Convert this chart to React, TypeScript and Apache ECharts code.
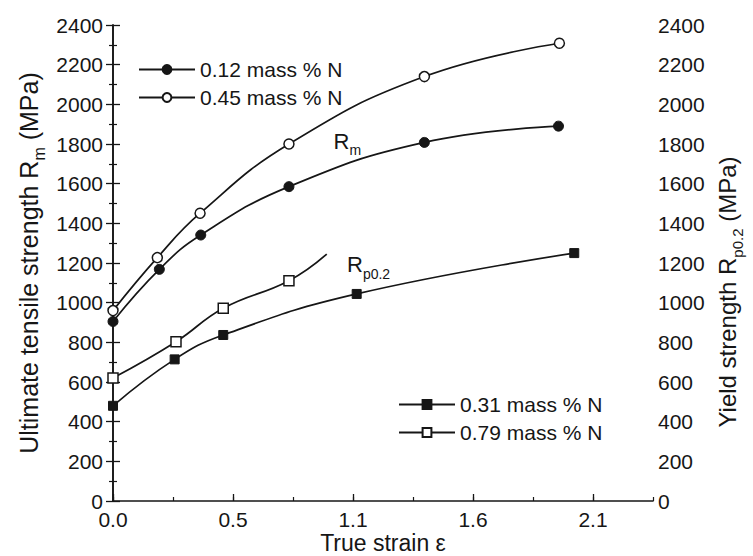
import React, { useEffect, useRef } from 'react';
import * as echarts from 'echarts';

// ---- data ----
const strain012 = [0, 0.206, 0.39, 0.782, 1.384, 1.98];
const rm012 = [905, 1168, 1341, 1585, 1808, 1890];
const strain045 = [0, 0.197, 0.387, 0.782, 1.384, 1.984];
const rm045 = [960, 1227, 1451, 1800, 2140, 2308];
const strain031 = [0, 0.274, 0.49, 1.083, 2.05];
const rp031 = [480, 714, 837, 1044, 1250];
const strain079 = [0, 0.28, 0.49, 0.782, 0.95];
const rp079 = [620, 803, 972, 1111, 1245];
const xTickLabels = ['0.0', '0.5', '1.1', '1.6', '2.1'];
const xMax = 2.4;
const yMax = 2400;
const yStep = 200;

const names = ['0.12 mass % N', '0.45 mass % N', '0.31 mass % N', '0.79 mass % N'];

const FONT = 'Liberation Sans, Arial, Helvetica, sans-serif';
const INK = '#161616';

function pairs(xs: number[], ys: number[]) {
  return xs.map((x, i) => [x, ys[i]]);
}

export default function App() {
  const ref = useRef<HTMLDivElement>(null);
  useEffect(() => {
    if (!ref.current) return;
    const chart = echarts.init(ref.current, undefined, { renderer: 'svg' });
    const lineBase = {
      type: 'line' as const,
      smooth: 0.45,
      lineStyle: { color: INK, width: 1.7 },
      z: 3,
    };
    const d079: any[] = pairs(strain079, rp079).map((p, i) =>
      i === strain079.length - 1 ? { value: p, symbol: 'none' } : p
    );
    const yAxisCommon = {
      type: 'value' as const,
      min: 0,
      max: yMax,
      interval: yStep,
      splitLine: { show: false },
      axisLine: { show: true, lineStyle: { color: INK, width: 1.6 } },
      axisTick: { show: true, inside: true, length: 7, lineStyle: { color: INK, width: 1.3 } },
      minorTick: { show: true, splitNumber: 2, length: 4, lineStyle: { color: INK, width: 1.2 } },
      axisLabel: {
        color: INK,
        fontSize: 21,
        fontFamily: FONT,
        formatter: (v: number) => String(v),
      },
    };
    chart.setOption({
      animation: false,
      backgroundColor: '#ffffff',
      grid: {
        left: 113,
        right: 100,
        top: 25,
        bottom: 55,
        containLabel: false,
        outerBoundsMode: 'none',
      },
      xAxis: [
        {
          type: 'value',
          min: 0,
          max: xMax,
          interval: xMax / 4.5,
          position: 'bottom',
          splitLine: { show: false },
          axisLine: { show: true, onZero: false, lineStyle: { color: INK, width: 1.6 } },
          axisTick: { show: true, inside: true, length: 7, lineStyle: { color: INK, width: 1.3 } },
          axisLabel: {
            color: INK,
            fontSize: 21,
            fontFamily: FONT,
            margin: 8,
            showMaxLabel: false,
            formatter: (_v: number, i: number) => xTickLabels[i] ?? '',
          },
        },
        {
          type: 'value',
          min: 0,
          max: xMax,
          interval: xMax / 9,
          position: 'bottom',
          splitLine: { show: false },
          axisLine: { show: false, onZero: false },
          axisTick: { show: true, inside: true, length: 4, lineStyle: { color: INK, width: 1.2 } },
          axisLabel: { show: false },
        },
      ],
      yAxis: [
        { ...yAxisCommon, position: 'left', axisLabel: { ...yAxisCommon.axisLabel, margin: 10 } },
        { ...yAxisCommon, position: 'right', axisLabel: { ...yAxisCommon.axisLabel, margin: 5 } },
      ],
      legend: [
        {
          data: [names[0], names[1]],
          orient: 'vertical',
          left: 133,
          top: 54,
          itemWidth: 56,
          itemHeight: 11,
          itemGap: 7,
          textStyle: { color: INK, fontSize: 21, fontFamily: FONT },
        },
        {
          data: [names[2], names[3]],
          orient: 'vertical',
          left: 393,
          top: 389,
          itemWidth: 56,
          itemHeight: 11,
          itemGap: 7,
          textStyle: { color: INK, fontSize: 21, fontFamily: FONT },
        },
      ],
      series: [
        {
          ...lineBase,
          name: names[0],
          data: pairs(strain012, rm012),
          symbol: 'circle',
          symbolSize: 10,
          itemStyle: { color: INK, borderColor: INK, borderWidth: 1 },
        },
        {
          ...lineBase,
          name: names[1],
          data: pairs(strain045, rm045),
          symbol: 'circle',
          symbolSize: 10,
          itemStyle: { color: '#ffffff', borderColor: INK, borderWidth: 1.5 },
        },
        {
          ...lineBase,
          name: names[2],
          data: pairs(strain031, rp031),
          symbol: 'rect',
          symbolSize: 9,
          itemStyle: { color: INK, borderColor: INK, borderWidth: 1 },
        },
        {
          ...lineBase,
          name: names[3],
          data: d079,
          symbol: 'rect',
          symbolSize: 10,
          itemStyle: { color: '#ffffff', borderColor: INK, borderWidth: 1.5 },
        },
      ],
    });

    const rmPos = chart.convertToPixel({ xAxisIndex: 0, yAxisIndex: 0 }, [0.98, 1815]) as number[];
    const rpPos = chart.convertToPixel({ xAxisIndex: 0, yAxisIndex: 0 }, [1.04, 1190]) as number[];
    const subRich = (size: number) => ({
      sub: {
        fontSize: Math.round(size * 0.62),
        fontFamily: FONT,
        fill: INK,
        color: INK,
        lineHeight: Math.round(size * 1.45),
        verticalAlign: 'bottom',
      },
    });
    chart.setOption({
      graphic: [
        {
          type: 'text',
          x: 383,
          y: 543,
          style: {
            text: 'True strain ε',
            fill: INK,
            font: `23px ${FONT}`,
            align: 'center',
            verticalAlign: 'middle',
          },
        },
        {
          type: 'text',
          x: 29,
          y: 263,
          rotation: Math.PI / 2,
          style: {
            text: 'Ultimate tensile strength R{sub|m} (MPa)',
            fill: INK,
            font: `25px ${FONT}`,
            align: 'center',
            verticalAlign: 'middle',
            rich: subRich(25),
          },
        },
        {
          type: 'text',
          x: 727,
          y: 292,
          rotation: Math.PI / 2,
          style: {
            text: 'Yield strength R{sub|p0.2} (MPa)',
            fill: INK,
            font: `24px ${FONT}`,
            align: 'center',
            verticalAlign: 'middle',
            rich: subRich(24),
          },
        },
        {
          type: 'text',
          x: rmPos[0],
          y: rmPos[1],
          style: {
            text: 'R{sub|m}',
            fill: INK,
            font: `22px ${FONT}`,
            align: 'left',
            verticalAlign: 'middle',
            rich: subRich(22),
          },
        },
        {
          type: 'text',
          x: rpPos[0],
          y: rpPos[1],
          style: {
            text: 'R{sub|p0.2}',
            fill: INK,
            font: `22px ${FONT}`,
            align: 'left',
            verticalAlign: 'middle',
            rich: subRich(22),
          },
        },
      ],
    });
    return () => chart.dispose();
  }, []);
  return (
    <div
      ref={ref}
      style={{ position: 'fixed', left: 0, top: 0, width: 753, height: 556, background: '#fff' }}
    />
  );
}
